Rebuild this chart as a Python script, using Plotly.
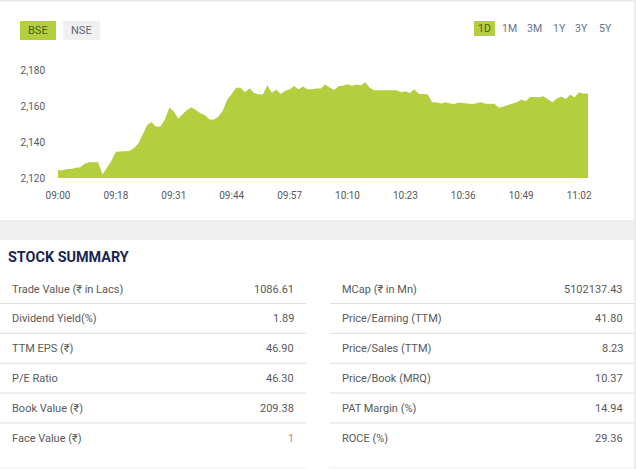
import plotly.graph_objects as go

W, H = 636, 469

# ---------------- data ----------------
times = [
    "09:00", "09:06", "09:07", "09:08", "09:09", "09:10", "09:11", "09:12", "09:13", "09:14",
    "09:15", "09:16", "09:17", "09:18", "09:19", "09:20", "09:21", "09:22", "09:23", "09:24",
    "09:25", "09:26", "09:27", "09:28", "09:29", "09:30", "09:31", "09:32", "09:33", "09:34",
    "09:35", "09:36", "09:37", "09:38", "09:39", "09:40", "09:41", "09:42", "09:43", "09:44",
    "09:45", "09:46", "09:47", "09:48", "09:49", "09:50", "09:51", "09:52", "09:53", "09:54",
    "09:55", "09:56", "09:57", "09:58", "09:59", "10:00", "10:01", "10:02", "10:03", "10:04",
    "10:05", "10:06", "10:07", "10:08", "10:09", "10:10", "10:11", "10:12", "10:13", "10:14",
    "10:15", "10:16", "10:17", "10:18", "10:19", "10:20", "10:21", "10:22", "10:23", "10:24",
    "10:25", "10:26", "10:27", "10:28", "10:29", "10:30", "10:31", "10:32", "10:33", "10:34",
    "10:35", "10:36", "10:37", "10:38", "10:39", "10:40", "10:41", "10:42", "10:43", "10:44",
    "10:45", "10:46", "10:47", "10:48", "10:49", "10:50", "10:51", "10:52", "10:53", "10:54",
    "10:55", "10:56", "10:57", "10:58", "10:59", "11:00", "11:01", "11:02", "11:03", "11:04",
]

prices = [
    2124.3, 2124.3, 2125.0, 2125.0, 2125.8, 2126.0, 2128.0, 2128.8, 2128.8, 2128.8,
    2122.0, 2125.8, 2129.7, 2134.7, 2134.7, 2134.7, 2135.1, 2136.7, 2139.2, 2144.2,
    2149.5, 2151.4, 2148.7, 2148.9, 2152.8, 2159.5, 2157.3, 2153.4, 2155.8, 2158.2,
    2159.6, 2157.7, 2156.3, 2155.3, 2152.8, 2152.7, 2154.3, 2157.8, 2164.0, 2167.0,
    2170.6, 2170.6, 2168.0, 2170.3, 2167.6, 2166.9, 2166.8, 2172.0, 2167.8, 2169.6,
    2167.1, 2168.9, 2169.6, 2171.5, 2169.7, 2171.3, 2169.7, 2169.7, 2170.2, 2170.2,
    2172.4, 2170.7, 2169.3, 2171.5, 2171.7, 2172.5, 2171.7, 2172.4, 2172.0, 2173.6,
    2170.5, 2169.1, 2169.1, 2169.1, 2169.1, 2169.1, 2169.1, 2168.1, 2168.6, 2167.6,
    2169.7, 2167.2, 2166.9, 2166.9, 2162.5, 2162.5, 2161.8, 2162.4, 2161.8, 2161.5,
    2162.3, 2162.1, 2161.7, 2161.4, 2161.9, 2162.4, 2161.6, 2161.5, 2161.6, 2159.3,
    2160.0, 2160.8, 2161.6, 2162.4, 2164.0, 2163.0, 2165.4, 2165.4, 2165.2, 2165.8,
    2164.3, 2162.4, 2164.6, 2165.7, 2164.2, 2166.7, 2165.2, 2168.0, 2167.2, 2167.4,
]

x_tick_labels = ["09:00", "09:18", "09:31", "09:44", "09:57", "10:10", "10:23", "10:36", "10:49", "11:02"]
y_tick_values = [2120, 2140, 2160, 2180]

exchanges = ["BSE", "NSE"]
periods = ["1D", "1M", "3M", "1Y", "3Y", "5Y"]

summary_title = "STOCK SUMMARY"
left_labels = ["Trade Value (₹ in Lacs)", "Dividend Yield(%)", "TTM EPS (₹)", "P/E Ratio", "Book Value (₹)", "Face Value (₹)"]
left_values = ["1086.61", "1.89", "46.90", "46.30", "209.38", "1"]
right_labels = ["MCap (₹ in Mn)", "Price/Earning (TTM)", "Price/Sales (TTM)", "Price/Book (MRQ)", "PAT Margin (%)", "ROCE (%)"]
right_values = ["5102137.43", "41.80", "8.23", "10.37", "14.94", "29.36"]

# ---------------- styling helpers ----------------
GREEN = "#b3cf3d"
FONT = "Roboto"
TXT = "#595959"


def fx(x):
    return x / W


def fy(y):
    return 1 - y / H


fig = go.Figure()
fig.add_trace(go.Scatter(
    x=times, y=prices, mode="lines",
    line=dict(width=0, color=GREEN),
    fill="tozeroy", fillcolor=GREEN,
    hoverinfo="skip", showlegend=False,
))

shapes = []
annotations = []


def rect(x0, y0, x1, y1, color):
    shapes.append(dict(type="rect", xref="paper", yref="paper",
                       x0=fx(x0), x1=fx(x1), y0=fy(y1), y1=fy(y0),
                       fillcolor=color, line=dict(width=0), layer="below"))


def hline(x0, x1, y, color="#dedede", width=1):
    shapes.append(dict(type="line", xref="paper", yref="paper",
                       x0=fx(x0), x1=fx(x1), y0=fy(y), y1=fy(y),
                       line=dict(color=color, width=width)))


def text(x, y, s, size=12, color=TXT, anchor="left", bold=False):
    annotations.append(dict(xref="paper", yref="paper", x=fx(x), y=fy(y),
                            text=f"<b>{s}</b>" if bold else s, showarrow=False,
                            xanchor=anchor, yanchor="middle",
                            borderpad=0, borderwidth=0,
                            font=dict(family=FONT, size=size, color=color)))


# frame
rect(0, 0, 636, 1.5, "#e9e9e9")
rect(634, 0, 636, 469, "#ebebeb")
rect(0, 220, 634, 240, "#efefef")

# exchange buttons
rect(20, 21, 56, 40, GREEN)
rect(63, 21, 100, 40, "#f0f0f0")
text(38, 30.5, exchanges[0], size=11, color="#4d5a28", anchor="center")
text(81.5, 30.5, exchanges[1], size=11, color="#5f6578", anchor="center")

# period buttons
period_x = [484.5, 509.3, 534.3, 559.3, 581.7, 605.3]
rect(474, 21, 495, 36, GREEN)
for i, p in enumerate(periods):
    text(period_x[i], 28.5, p, size=10.5, color="#4d5a28" if i == 0 else "#68708c", anchor="center")

# stock summary
text(8, 257.5, summary_title, size=14.4, color="#1b2650", bold=True)
row_y0 = 289
pitch = 29.85
for k in range(len(left_labels)):
    y = row_y0 + pitch * k
    text(12, y, left_labels[k], size=11)
    text(293.5, y, left_values[k], size=11,
         color="#c98a5e" if left_values[k] == "1" else TXT, anchor="right")
    text(342, y, right_labels[k], size=11)
    text(623, y, right_values[k], size=11, anchor="right")
    if k < len(left_labels) - 1:
        sy = row_y0 + pitch * k + 14.5
        hline(0, 306, sy)
        hline(330, 634, sy)
hline(0, 306, 468, color="#eeeeee")
hline(330, 634, 468, color="#eeeeee")

fig.update_layout(
    width=W, height=H,
    margin=dict(l=0, r=0, t=0, b=0, autoexpand=False),
    paper_bgcolor="white", plot_bgcolor="white",
    font=dict(family=FONT, color=TXT),
    shapes=shapes, annotations=annotations,
    xaxis=dict(
        domain=[fx(58), fx(588)],
        type="category",
        range=[0, len(times) - 1],
        tickmode="array", tickvals=x_tick_labels, ticktext=x_tick_labels,
        showgrid=False, zeroline=False, showline=False, ticks="",
        tickfont=dict(size=10, color=TXT),
        ticklabelstandoff=10,
        automargin=False,
        fixedrange=True,
    ),
    yaxis=dict(
        domain=[fy(178), fy(60)],
        range=[2120, 2186.1],
        tickmode="array", tickvals=y_tick_values, tickformat=",d",
        showgrid=False, zeroline=False, showline=False, ticks="",
        tickfont=dict(size=10, color=TXT),
        ticklabelstandoff=12,
        automargin=False,
        fixedrange=True,
    ),
)

fig.write_html("out.html", config={"displayModeBar": False})
